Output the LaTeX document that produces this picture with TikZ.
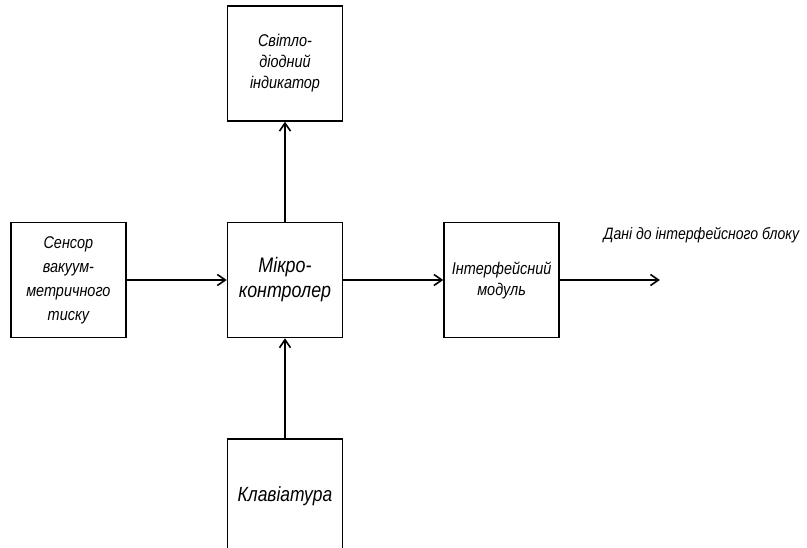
\documentclass[tikz,border=0pt]{standalone}
\usepackage{fontspec}
\setmainfont{Liberation Sans}[FakeStretch=0.85]
\usetikzlibrary{arrows.meta,positioning}

\begin{document}
\begin{tikzpicture}[
    x=1pt, y=-1pt,
    node distance=100pt and 100pt,
    line width=1.6pt,
    block/.style={
      draw,
      align=center,
      font=\itshape\fontsize{17}{21}\selectfont,
      minimum width=115pt,
      minimum height=115pt,
      inner sep=2pt
    },
    lbl/.style={
      font=\itshape\fontsize{16.5}{19}\selectfont,
      inner sep=0pt
    },
    arr/.style={-{Straight Barb[length=8pt,width=11pt]}}
]
  \useasboundingbox (0,0) rectangle (807,548);

  % Blocks
  \node[block, font=\itshape\fontsize{21}{25}\selectfont] (mcu) at (285,280) {Мікро-\\контролер};
  \node[block, font=\itshape\fontsize{17}{24}\selectfont, left=of mcu] (sensor) {Сенсор\\вакуум-\\метричного\\тиску};
  \node[block, above=of mcu] (led) {Світло-\\діодний\\індикатор};
  \node[block, right=of mcu] (iface) {Інтерфейсний\\модуль};
  \node[block, font=\itshape\fontsize{20.5}{24}\selectfont, below=of mcu] (kbd) {Клавіатура};

  % Output
  \coordinate[right=100pt of iface] (out);
  \node[lbl, anchor=west] (data) at ([xshift=43pt, yshift=45pt]iface.east) {Дані до інтерфейсного блоку};

  % Connecting arrows
  \draw[arr] (sensor) -- (mcu);
  \draw[arr] (mcu) -- (led);
  \draw[arr] (kbd) -- (mcu);
  \draw[arr] (mcu) -- (iface);
  \draw[arr] (iface.east) -- (out);
\end{tikzpicture}
\end{document}
